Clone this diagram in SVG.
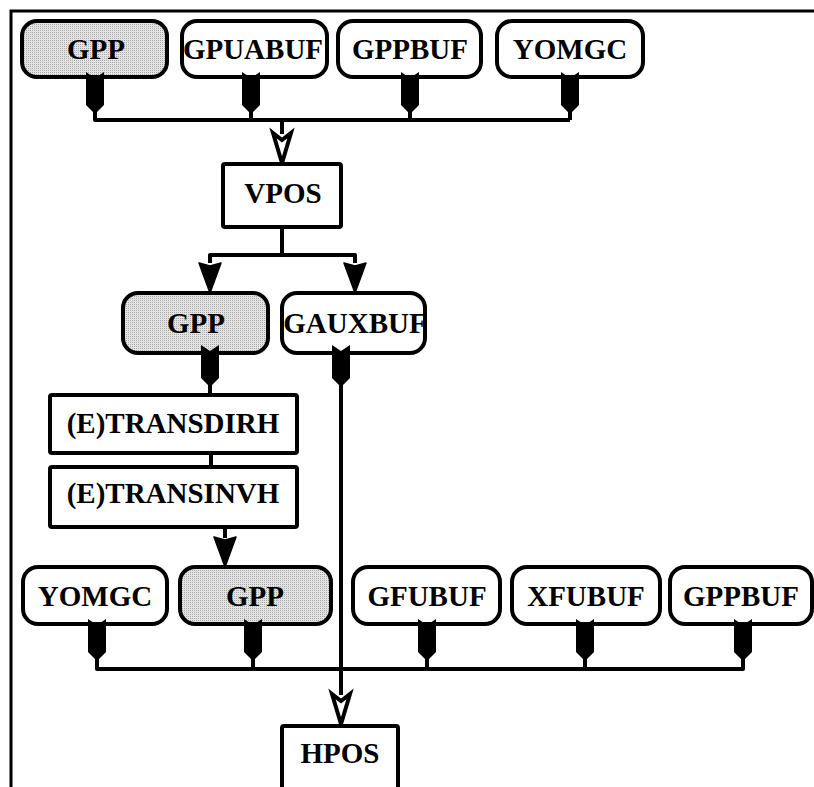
<svg xmlns="http://www.w3.org/2000/svg" width="814" height="787" viewBox="0 0 814 787">
<style>
.frame{fill:none;stroke:#000;stroke-width:3}
.rbox{fill:#fff;stroke:#000;stroke-width:4}
.gbox{fill:url(#dots);stroke:#000;stroke-width:4}
.box{fill:#fff;stroke:#000;stroke-width:4}
.ln{fill:none;stroke:#000;stroke-width:4;stroke-linejoin:round}
.lbl{font-family:"Liberation Serif","Times New Roman",serif;font-weight:bold;font-size:29px;text-anchor:middle;fill:#000}
</style>
<defs>
<pattern id="dots" width="2" height="2" patternUnits="userSpaceOnUse">
<rect width="2" height="2" fill="#e4e4e4"/>
<rect width="1" height="1" fill="#a8a8a8"/>
</pattern>
<path id="tail" d="M-9,0 L0,6 L9,0 L9,33 L2,40 L-2,40 L-9,33 Z" fill="#000"/>
<path id="arrF" d="M-11,0 L0,3 L11,0 L0,30 Z" fill="#000" stroke="#000" stroke-width="1.5" stroke-linejoin="round"/>
<path id="arrO" d="M-9,0 L0,7 L9,0 L0,30 Z" fill="#fff" stroke="#000" stroke-width="4" stroke-linejoin="miter"/>
</defs>
<rect width="814" height="787" fill="#fff"/>
<path class="frame" d="M11,787 L11,11 L814,11"/>

<g id="connectors">
<path class="ln" d="M95,110 L95,120 L570,120 M251,110 L251,120 M410,110 L410,120 M570,110 L570,120 M282,120 L282,134"/>
<use href="#arrO" x="282" y="133"/>
<path class="ln" d="M282,227 L282,255 M210,263 L210,255 L355,255 L355,263"/>
<use href="#arrF" x="210" y="263"/>
<use href="#arrF" x="355" y="263"/>
<path class="ln" d="M210,383 L210,395 M211,453 L211,467 M225,527 L225,538"/>
<use href="#arrF" x="225" y="537"/>
<path class="ln" d="M341,383 L341,695"/>
<use href="#arrO" x="341" y="694"/>
<path class="ln" d="M97,656 L97,669 L743,669 L743,656 M253,656 L253,669 M427,656 L427,669 M585,656 L585,669"/>
</g>

<g id="n-gpp1"><rect class="gbox" x="22" y="21" width="145" height="56" rx="15"/><text class="lbl" x="96" y="59">GPP</text><use href="#tail" x="95" y="72"/></g>
<g id="n-gpuabuf"><rect class="rbox" x="182" y="21" width="145" height="56" rx="15"/><text class="lbl" x="253" y="59">GPUABUF</text><use href="#tail" x="251" y="72"/></g>
<g id="n-gppbuf1"><rect class="rbox" x="338" y="21" width="143" height="56" rx="15"/><text class="lbl" x="410" y="59">GPPBUF</text><use href="#tail" x="410" y="72"/></g>
<g id="n-yomgc1"><rect class="rbox" x="497" y="21" width="146" height="56" rx="15"/><text class="lbl" x="570" y="59">YOMGC</text><use href="#tail" x="570" y="72"/></g>

<g id="n-vpos"><rect class="box" x="223" y="164" width="118" height="63" rx="2"/><text class="lbl" x="283" y="203">VPOS</text></g>

<g id="n-gpp2"><rect class="gbox" x="123" y="293" width="145" height="60" rx="15"/><text class="lbl" x="196" y="333">GPP</text><use href="#tail" x="210" y="345"/></g>
<g id="n-gauxbuf"><rect class="rbox" x="282" y="293" width="143" height="60" rx="15"/><text class="lbl" x="355" y="333">GAUXBUF</text><use href="#tail" x="341" y="345"/></g>

<g id="n-transdirh"><rect class="box" x="50" y="395" width="247" height="58" rx="2"/><text class="lbl" x="173" y="433">(E)TRANSDIRH</text></g>
<g id="n-transinvh"><rect class="box" x="50" y="467" width="247" height="60" rx="2"/><text class="lbl" x="173" y="503">(E)TRANSINVH</text></g>

<g id="n-yomgc2"><rect class="rbox" x="23" y="567" width="144" height="57" rx="15"/><text class="lbl" x="95" y="606">YOMGC</text><use href="#tail" x="97" y="619"/></g>
<g id="n-gpp3"><rect class="gbox" x="180" y="567" width="151" height="57" rx="15"/><text class="lbl" x="255" y="606">GPP</text><use href="#tail" x="253" y="619"/></g>
<g id="n-gfubuf"><rect class="rbox" x="353" y="567" width="147" height="57" rx="15"/><text class="lbl" x="427" y="606">GFUBUF</text><use href="#tail" x="427" y="619"/></g>
<g id="n-xfubuf"><rect class="rbox" x="512" y="567" width="148" height="57" rx="15"/><text class="lbl" x="586" y="606">XFUBUF</text><use href="#tail" x="585" y="619"/></g>
<g id="n-gppbuf2"><rect class="rbox" x="670" y="567" width="142" height="57" rx="15"/><text class="lbl" x="741" y="606">GPPBUF</text><use href="#tail" x="743" y="619"/></g>

<g id="n-hpos"><path class="box" d="M282,790 L282,728 Q282,726 284,726 L396,726 Q398,726 398,728 L398,790"/><text class="lbl" x="340" y="763">HPOS</text></g>
</svg>
